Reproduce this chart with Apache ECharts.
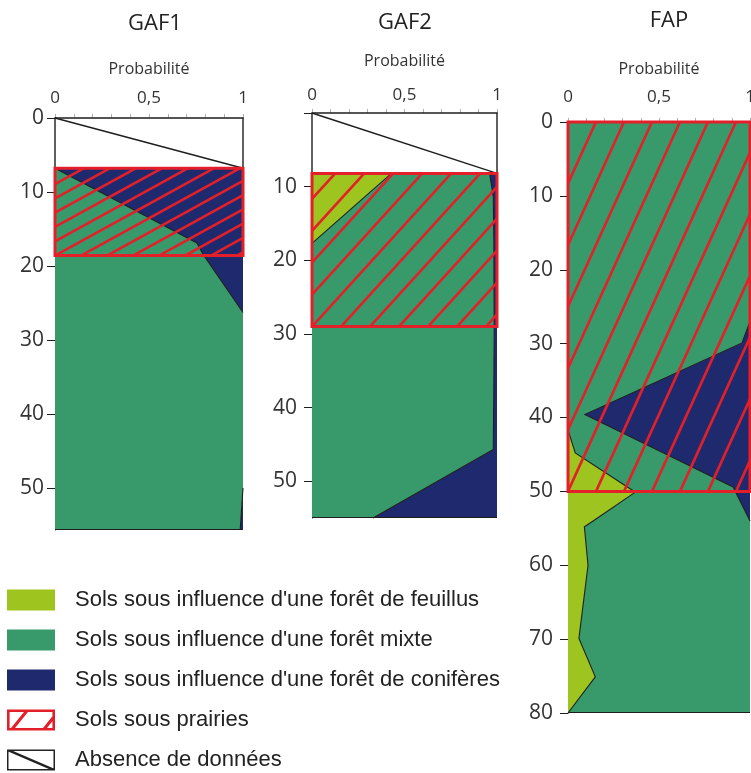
<!DOCTYPE html>
<html><head><meta charset="utf-8">
<script src="https://cdn.jsdelivr.net/npm/echarts@6/dist/echarts.min.js"></script>
<style>html,body{margin:0;padding:0;background:#fff}#c{width:751px;height:773px}</style>
</head><body><div id="c"></div>
<script>
// ---------- data ----------
const panelNames = ['GAF1', 'GAF2', 'FAP'];
const classNames = [
  "Sols sous influence d'une forêt de feuillus",
  "Sols sous influence d'une forêt mixte",
  "Sols sous influence d'une forêt de conifères",
  "Sols sous prairies",
  "Absence de données"
];
const axisName = 'Probabilité';
const probTicks = [0, 0.1, 0.2, 0.3, 0.4, 0.5, 0.6, 0.7, 0.8, 0.9, 1];
const probLabels = [0, 0.5, 1];

const gaf1Ticks = [0, 10, 20, 30, 40, 50];
const gaf1Labels = [0, 10, 20, 30, 40, 50];
const gaf2Ticks = [0, 10, 20, 30, 40, 50];
const gaf2Labels = [10, 20, 30, 40, 50];
const fapTicks = [0, 10, 20, 30, 40, 50, 60, 70, 80];
const fapLabels = [0, 10, 20, 30, 40, 50, 60, 70, 80];

// GAF1 (depth, probability of each class)
const gaf1MaxDepth = 55.7;
const gaf1Depth     = [6.8, 16.9, 18.4, 26.3, 50, 55.7];
const gaf1Feuillus  = [0, 0, 0, 0, 0, 0];
const gaf1Mixte     = [0, 0.755, 0.787, 1, 1, 0.985];
const gaf1Coniferes = [1, 0.245, 0.213, 0, 0, 0.015];
const gaf1NoData    = [0, 6.8];
const gaf1Prairie   = [6.8, 18.6];

// GAF2
const gaf2MaxDepth = 55;
const gaf2Depth     = [8.2, 11.4, 17.7, 30, 45.7, 55];
const gaf2Feuillus  = [0.43, 0.285, 0, 0, 0, 0];
const gaf2Mixte     = [0.53, 0.695, 0.983, 0.985, 0.98, 0.33];
const gaf2Coniferes = [0.04, 0.02, 0.017, 0.015, 0.02, 0.67];
const gaf2NoData    = [0, 8.2];
const gaf2Prairie   = [8.2, 29.0];

// FAP
const fapMaxDepth = 80;
const fapDepth     = [0, 27, 29.9, 39.6, 41.7, 44.8, 49.4, 50.1, 54, 54.8, 60, 69.9, 75.1, 80];
const fapFeuillus  = [0, 0, 0, 0, 0, 0.04, 0.326, 0.37, 0.138, 0.09, 0.11, 0.06, 0.15, 0];
const fapMixte     = [1, 1, 0.956, 0.093, 0.267, 0.485, 0.581, 0.551, 0.862, 0.91, 0.89, 0.94, 0.85, 1];
const fapConiferes = [0, 0, 0.044, 0.907, 0.733, 0.475, 0.093, 0.079, 0, 0, 0, 0, 0, 0];
const fapNoData    = null;
const fapPrairie   = [0, 50];

// ---------- styles / layout ----------
const COL = { feuillus: '#9dc41f', mixte: '#389a6b', coniferes: '#1f2a6e', red: '#e3202a', ink: '#1e1e1e' };
const FONT = "'Open Sans', sans-serif";
const panels = [
  { name: panelNames[0], depth: gaf1Depth, f: gaf1Feuillus, m: gaf1Mixte, c: gaf1Coniferes, noData: gaf1NoData, prairie: gaf1Prairie, max: gaf1MaxDepth, yTicks: gaf1Ticks, yLabels: gaf1Labels,
    grid: { left: 55, top: 118, width: 188, height: 412 }, titleX: 155, titleY: 24, xMargin: 11, nameGap: 41, yMargin: 11, hatch: { slope: 0.55, spacing: 26 } },
  { name: panelNames[1], depth: gaf2Depth, f: gaf2Feuillus, m: gaf2Mixte, c: gaf2Coniferes, noData: gaf2NoData, prairie: gaf2Prairie, max: gaf2MaxDepth, yTicks: gaf2Ticks, yLabels: gaf2Labels,
    grid: { left: 312, top: 113, width: 185, height: 405 }, titleX: 405, titleY: 23, xMargin: 9.5, nameGap: 44, yMargin: 15, hatch: { slope: 1.1, spacing: 29 } },
  { name: panelNames[2], depth: fapDepth, f: fapFeuillus, m: fapMixte, c: fapConiferes, noData: fapNoData, prairie: fapPrairie, max: fapMaxDepth, yTicks: fapTicks, yLabels: fapLabels,
    grid: { left: 568, top: 122, width: 182, height: 591 }, titleX: 669, titleY: 21, xMargin: 16, nameGap: 45, yMargin: 15, hatch: { slope: 2.2, spacing: 28 } }
];

function fmtProb(v) { return String(v).replace('.', ','); }

// polygon band between two cumulative boundaries
function bandRender(color) {
  return function (params, api) {
    if (params.dataIndexInside !== 0) return null;
    const n = params.dataInsideLength;
    let width = 0;
    for (let j = 0; j < n; j++) width = Math.max(width, api.value(1, j) - api.value(0, j));
    if (width <= 0) return null;
    const pts = [];
    for (let j = 0; j < n; j++) pts.push(api.coord([api.value(0, j), api.value(2, j)]));
    for (let j = n - 1; j >= 0; j--) pts.push(api.coord([api.value(1, j), api.value(2, j)]));
    return { type: 'polygon', shape: { points: pts }, style: { fill: color } };
  };
}

// black boundary lines between classes
function boundaryRender(params, api) {
  if (params.dataIndexInside !== 0) return null;
  const n = params.dataInsideLength;
  const children = [];
  [0, 1].forEach(function (dim) {
    let run = [];
    for (let j = 0; j < n - 1; j++) {
      const a = api.value(dim, j), b = api.value(dim, j + 1);
      const onEdge = (a <= 0.001 && b <= 0.001) || (a >= 0.999 && b >= 0.999);
      if (onEdge) {
        if (run.length) { children.push(run); run = []; }
        continue;
      }
      if (!run.length) run.push(api.coord([a, api.value(2, j)]));
      run.push(api.coord([b, api.value(2, j + 1)]));
    }
    if (run.length) children.push(run);
  });
  return {
    type: 'group',
    children: children.map(function (pts) {
      return { type: 'polyline', shape: { points: pts }, style: { stroke: COL.ink, lineWidth: 1.1, fill: null } };
    })
  };
}

function hatchRender(h) {
  return function (params, api) {
    const p0 = api.coord([api.value(0), api.value(2)]);
    const p1 = api.coord([api.value(1), api.value(3)]);
    const L = p0[0], T = p0[1], R = p1[0], B = p1[1];
    const H = B - T, run = H / h.slope;
    const lines = [];
    for (let xk = L - Math.ceil(run / h.spacing + 1) * h.spacing; xk <= R; xk += h.spacing) {
      const xa = Math.max(L, xk), xb = Math.min(R, xk + run);
      if (xb <= xa) continue;
      lines.push({ type: 'line', shape: { x1: xa, y1: B - h.slope * (xa - xk), x2: xb, y2: B - h.slope * (xb - xk) },
        style: { stroke: COL.red, lineWidth: 2.6 } });
    }
    lines.push({ type: 'rect', shape: { x: L, y: T, width: R - L, height: B - T }, style: { fill: null, stroke: COL.red, lineWidth: 3 } });
    return { type: 'group', children: lines };
  };
}

function noDataRender(params, api) {
  const p0 = api.coord([api.value(0), api.value(2)]);
  const p1 = api.coord([api.value(1), api.value(3)]);
  return { type: 'group', children: [
    { type: 'rect', shape: { x: p0[0], y: p0[1], width: p1[0] - p0[0], height: p1[1] - p0[1] }, style: { fill: '#fff', stroke: COL.ink, lineWidth: 1.4 } },
    { type: 'line', shape: { x1: p0[0], y1: p0[1], x2: p1[0], y2: p1[1] }, style: { stroke: COL.ink, lineWidth: 1.4 } }
  ] };
}

const grids = [], xAxes = [], yAxes = [], series = [], titles = [];
panels.forEach(function (P, i) {
  grids.push(Object.assign({ outerBoundsMode: 'none', containLabel: false }, P.grid));
  titles.push({ text: P.name, left: P.titleX, top: P.titleY, padding: 0, textAlign: 'center', textVerticalAlign: 'middle',
    textStyle: { fontFamily: FONT, fontSize: 22, fontWeight: 'normal', color: '#222' } });
  xAxes.push({
    gridIndex: i, type: 'value', position: 'top', min: 0, max: 1,
    name: axisName, nameLocation: 'middle', nameGap: P.nameGap,
    nameTextStyle: { fontFamily: FONT, fontSize: 16, color: '#333' },
    axisLine: { show: true, onZero: false, lineStyle: { color: COL.ink, width: 1 } },
    axisTick: { show: true, customValues: probTicks, length: 4, lineStyle: { color: '#b0b0b0' } },
    axisLabel: { customValues: probLabels, formatter: fmtProb, margin: P.xMargin, fontFamily: FONT, fontSize: 17, color: '#333' },
    splitLine: { show: false }
  });
  yAxes.push({
    gridIndex: i, type: 'value', inverse: true, min: 0, max: P.max,
    axisLine: { show: true, onZero: false, lineStyle: { color: COL.ink, width: 1 } },
    axisTick: { show: true, customValues: P.yTicks, length: 8, lineStyle: { color: COL.ink } },
    axisLabel: { customValues: P.yLabels, margin: P.yMargin, fontFamily: FONT, fontSize: 21, color: '#333' },
    splitLine: { show: false }
  });
  const c1 = P.f.slice();
  const c2 = P.f.map(function (v, j) { return v + P.m[j]; });
  const c3 = c2.map(function (v, j) { return v + P.c[j]; });
  const zero = P.f.map(function () { return 0; });
  const bands = [[zero, c1, COL.feuillus, classNames[0]], [c1, c2, COL.mixte, classNames[1]], [c2, c3, COL.coniferes, classNames[2]]];
  bands.forEach(function (b) {
    series.push({
      type: 'custom', name: b[3], xAxisIndex: i, yAxisIndex: i, z: 2,
      itemStyle: { color: b[2] }, silent: true,
      dimensions: ['lo', 'hi', 'depth'], encode: { x: [0, 1], y: 2 },
      data: P.depth.map(function (d, j) { return [b[0][j], b[1][j], d]; }),
      renderItem: bandRender(b[2])
    });
  });
  series.push({
    type: 'custom', name: 'limites-' + P.name, xAxisIndex: i, yAxisIndex: i, z: 3, silent: true,
    dimensions: ['b1', 'b2', 'depth'], encode: { x: [0, 1], y: 2 },
    data: P.depth.map(function (d, j) { return [c1[j], c2[j], d]; }),
    renderItem: boundaryRender
  });
  // bottom line of the profile
  series.push({
    type: 'custom', name: 'base-' + P.name, xAxisIndex: i, yAxisIndex: i, z: 3, silent: true,
    data: [[0, 1, P.max]], encode: { x: [0, 1], y: 2 },
    renderItem: function (params, api) {
      const a = api.coord([api.value(0), api.value(2)]), b = api.coord([api.value(1), api.value(2)]);
      return { type: 'line', shape: { x1: a[0], y1: a[1] - 0.5, x2: b[0], y2: b[1] - 0.5 }, style: { stroke: COL.ink, lineWidth: 1 } };
    }
  });
  if (P.noData) {
    series.push({
      type: 'custom', name: classNames[4], xAxisIndex: i, yAxisIndex: i, z: 4, silent: true,
      itemStyle: { color: COL.ink },
      data: [[0, 1, P.noData[0], P.noData[1]]], encode: { x: [0, 1], y: [2, 3] },
      renderItem: noDataRender
    });
  }
  series.push({
    type: 'custom', name: classNames[3], xAxisIndex: i, yAxisIndex: i, z: 5, silent: true,
    itemStyle: { color: COL.red },
    data: [[0, 1, P.prairie[0], P.prairie[1]]], encode: { x: [0, 1], y: [2, 3] },
    renderItem: hatchRender(P.hatch)
  });
});

const hatchIcon = 'path://M0 0H48V21H0Z M2.6 2.6V18.4H45.4V2.6Z M2 21L19 0H23L6 21Z M34 21L48 3.5V8.5L38 21Z';
const noDataIcon = 'path://M0 0H48V21H0Z M1.5 1.5V19.5H46.5V1.5Z M0 0H2.6L48 19.4V21H45.4L0 1.6Z';

const chart = echarts.init(document.getElementById('c'), null, { renderer: 'canvas' });
chart.setOption({
  backgroundColor: '#fff',
  animation: false,
  title: titles,
  grid: grids,
  xAxis: xAxes,
  yAxis: yAxes,
  legend: {
    orient: 'vertical', left: 7, top: 589, padding: 0, height: 240, width: 600,
    itemWidth: 48, itemHeight: 21, itemGap: 18, selectedMode: false,
    textStyle: { fontFamily: "'Liberation Sans', Arial, sans-serif", fontSize: 22, color: '#222', lineHeight: 21, padding: [0, 0, 0, 15] },
    data: [
      { name: classNames[0], icon: 'rect', itemStyle: { color: COL.feuillus } },
      { name: classNames[1], icon: 'rect', itemStyle: { color: COL.mixte } },
      { name: classNames[2], icon: 'rect', itemStyle: { color: COL.coniferes } },
      { name: classNames[3], icon: hatchIcon, itemStyle: { color: COL.red } },
      { name: classNames[4], icon: noDataIcon, itemStyle: { color: '#222' } }
    ]
  },
  series: series
});
</script></body></html>
